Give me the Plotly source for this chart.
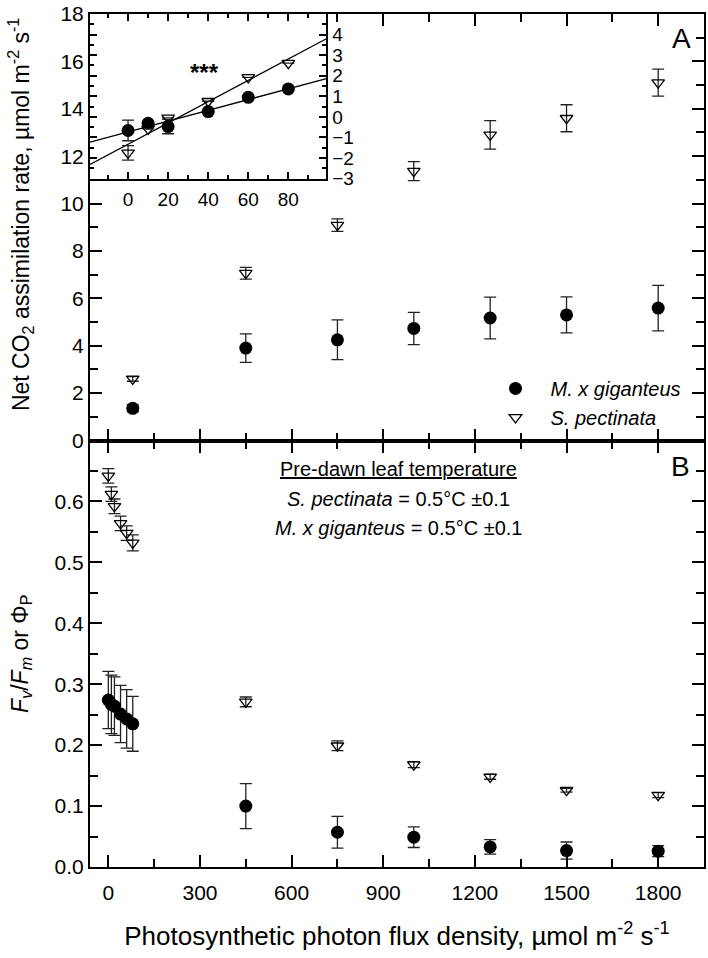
import numpy as np
import plotly.graph_objects as go

# ---------------- data ----------------
# Panel A: net CO2 assimilation (main)
ppfd_A = [80, 450, 750, 1000, 1250, 1500, 1800]
mg_A = [1.36, 3.90, 4.25, 4.73, 5.17, 5.30, 5.59]
mg_A_err = [0.15, 0.60, 0.84, 0.68, 0.88, 0.76, 0.96]
sp_A = [2.60, 7.06, 9.09, 11.37, 12.90, 13.60, 15.10]
sp_A_err = [0.10, 0.25, 0.26, 0.40, 0.60, 0.57, 0.57]

# Panel A inset: low light
ppfd_in = [0, 10, 20, 40, 60, 80]
mg_in = [-0.66, -0.31, -0.47, 0.26, 0.95, 1.36]
mg_in_err = [0.50, 0.0, 0.35, 0.0, 0.0, 0.0]
sp_in = [-1.75, -0.58, -0.05, 0.76, 1.92, 2.61]
sp_in_err = [0.35, 0.0, 0.0, 0.0, 0.0, 0.0]

# Panel B: Fv/Fm or PhiP
ppfd_B = [0, 10, 20, 40, 60, 80, 450, 750, 1000, 1250, 1500, 1800]
mg_B = [0.274, 0.267, 0.264, 0.251, 0.243, 0.235, 0.100, 0.057, 0.049, 0.033, 0.027, 0.026]
mg_B_err = [0.047, 0.048, 0.048, 0.047, 0.048, 0.045, 0.037, 0.026, 0.017, 0.012, 0.014, 0.009]
sp_B = [0.642, 0.612, 0.592, 0.564, 0.548, 0.532, 0.271, 0.199, 0.168, 0.148, 0.126, 0.118]
sp_B_err = [0.012, 0.012, 0.012, 0.012, 0.012, 0.013, 0.008, 0.008, 0.005, 0.004, 0.003, 0.004]

x_ticks = [0, 300, 600, 900, 1200, 1500, 1800]
yA_ticks = list(range(0, 19, 2))
yB_ticks = [0.0, 0.1, 0.2, 0.3, 0.4, 0.5, 0.6]
in_x_ticks = [0, 20, 40, 60, 80]
in_y_ticks = [-3, -2, -1, 0, 1, 2, 3, 4]

names = ["<i>M. x giganteus</i>", "<i>S. pectinata</i>"]

# ---------------- styling ----------------
FONT = "Liberation Sans, Arial, sans-serif"
BLACK = "#000000"
ERRC = "#222222"
x_range = [-60, 1950]
in_x_range = [-19, 99]

circ = dict(symbol="circle", size=13, color=BLACK)
tri = dict(symbol="triangle-down-open", size=11, color=BLACK, line=dict(width=1.3, color=BLACK))


def err(vals, w=6):
    return dict(type="data", array=vals, visible=True, color=ERRC, thickness=1.3, width=w)


fig = go.Figure()

# Panel B (x, y)
fig.add_trace(go.Scatter(x=ppfd_B, y=mg_B, mode="markers", marker=circ, error_y=err(mg_B_err),
                         xaxis="x", yaxis="y", showlegend=False))
fig.add_trace(go.Scatter(x=ppfd_B, y=sp_B, mode="markers", marker=tri, error_y=err(sp_B_err),
                         xaxis="x", yaxis="y", showlegend=False))

# Panel A (x2, y2)
fig.add_trace(go.Scatter(x=ppfd_A, y=mg_A, mode="markers", marker=circ, error_y=err(mg_A_err),
                         xaxis="x2", yaxis="y2", name=names[0], showlegend=True))
fig.add_trace(go.Scatter(x=ppfd_A, y=sp_A, mode="markers", marker=tri, error_y=err(sp_A_err),
                         xaxis="x2", yaxis="y2", name=names[1], showlegend=True))

# Inset (x3, y3): regression lines then points
line_x = np.array(in_x_range, dtype=float)
for yy in (mg_in, sp_in):
    k, b = np.polyfit(ppfd_in, yy, 1)
    fig.add_trace(go.Scatter(x=line_x, y=k * line_x + b, mode="lines",
                             line=dict(color=BLACK, width=1.3), xaxis="x3", yaxis="y3",
                             showlegend=False, hoverinfo="skip"))
fig.add_trace(go.Scatter(x=ppfd_in, y=mg_in, mode="markers", marker=circ, error_y=err(mg_in_err),
                         xaxis="x3", yaxis="y3", showlegend=False))
fig.add_trace(go.Scatter(x=ppfd_in, y=sp_in, mode="markers", marker=tri, error_y=err(sp_in_err),
                         xaxis="x3", yaxis="y3", showlegend=False))

tickfont = dict(family=FONT, size=21, color=BLACK)
common = dict(showline=True, linewidth=2, linecolor=BLACK, ticks="inside", tickwidth=2,
              tickcolor=BLACK, showgrid=False, zeroline=False, mirror="ticks")

fig.update_layout(
    width=708, height=958,
    margin=dict(l=90, r=2, t=13, b=91),
    paper_bgcolor="white", plot_bgcolor="white",
    font=dict(family=FONT, color=BLACK),
    xaxis=dict(domain=[0, 1], anchor="y", range=x_range, tickvals=x_ticks, ticklen=12,
               minor=dict(dtick=150, ticklen=8, tickwidth=2, ticks="inside", tickcolor=BLACK),
               tickfont=tickfont, ticklabelstandoff=6,
               title=dict(text="Photosynthetic photon flux density, µmol m<sup>-2</sup> s<sup>-1</sup>",
                          font=dict(family=FONT, size=26, color=BLACK), standoff=24),
               **common),
    yaxis=dict(domain=[0, 0.5], anchor="x", range=[0, 0.7], tickvals=yB_ticks, tickformat=".1f",
               ticklen=12,
               minor=dict(dtick=0.05, ticklen=8, tickwidth=2, ticks="inside", tickcolor=BLACK),
               tickfont=tickfont,
               title=dict(text="<i>F</i><sub><i>v</i></sub>/<i>F</i><sub><i>m</i></sub> or Φ<sub>P</sub>",
                          font=dict(family=FONT, size=23, color=BLACK), standoff=20),
               **common),
    xaxis2=dict(domain=[0, 1], anchor="y2", matches="x", range=x_range, tickvals=x_ticks,
                showticklabels=False, ticklen=12,
                minor=dict(dtick=150, ticklen=8, tickwidth=2, ticks="inside", tickcolor=BLACK),
                **common),
    yaxis2=dict(domain=[0.5, 1], anchor="x2", range=[0, 18], tickvals=yA_ticks, ticklen=12,
                minor=dict(dtick=1, ticklen=8, tickwidth=2, ticks="inside", tickcolor=BLACK),
                tickfont=tickfont,
                **common),
    xaxis3=dict(domain=[0, 0.385], anchor="y3", range=in_x_range, tickvals=in_x_ticks, ticklen=7,
                minor=dict(dtick=10, ticklen=4, tickwidth=2, ticks="inside", tickcolor=BLACK),
                tickfont=dict(family=FONT, size=19, color=BLACK), ticklabelstandoff=3,
                **common),
    yaxis3=dict(domain=[0.807, 1], anchor="x3", side="right", range=[-3, 5], tickvals=in_y_ticks,
                ticklen=7,
                minor=dict(dtick=0.5, ticklen=4, tickwidth=2, ticks="inside", tickcolor=BLACK),
                tickfont=dict(family=FONT, size=19, color=BLACK),
                **common),
    legend=dict(x=0.636, y=0.544, xanchor="left", yanchor="middle", bgcolor="rgba(0,0,0,0)",
                borderwidth=0, font=dict(family=FONT, size=20, color=BLACK), tracegroupgap=0,
                itemwidth=60),
    annotations=[
        dict(text="Net CO<sub>2</sub> assimilation rate, µmol m<sup>-2</sup> s<sup>-1</sup>",
             x=-0.113, y=0.765, xref="paper", yref="paper", showarrow=False, textangle=-90,
             xanchor="center", yanchor="middle", font=dict(family=FONT, size=23, color=BLACK)),
        dict(text="A", x=0.963, y=0.971, xref="paper", yref="paper", showarrow=False,
             xanchor="center", yanchor="middle", font=dict(family=FONT, size=28, color=BLACK)),
        dict(text="B", x=0.961, y=0.4696, xref="paper", yref="paper", showarrow=False,
             xanchor="center", yanchor="middle", font=dict(family=FONT, size=28, color=BLACK)),
        dict(text="<b>***</b>", x=38, y=2.15, xref="x3", yref="y3", showarrow=False,
             xanchor="center", yanchor="middle", font=dict(family=FONT, size=24, color=BLACK)),
        dict(text="<u>Pre-dawn leaf temperature</u>", x=0.503, y=0.467, xref="paper", yref="paper",
             xanchor="center", yanchor="middle",
             showarrow=False, font=dict(family=FONT, size=20, color=BLACK)),
        dict(text="<i>S. pectinata</i> = 0.5°C ±0.1", x=0.503, y=0.431, xref="paper", yref="paper",
             xanchor="center", yanchor="middle",
             showarrow=False, font=dict(family=FONT, size=20, color=BLACK)),
        dict(text="<i>M. x giganteus</i> = 0.5°C ±0.1", x=0.503, y=0.397, xref="paper", yref="paper",
             xanchor="center", yanchor="middle",
             showarrow=False, font=dict(family=FONT, size=20, color=BLACK)),
    ],
)

fig.write_html("out.html", config={"displayModeBar": False},
               post_script="document.body.style.margin='0';document.body.style.overflow='hidden';")
